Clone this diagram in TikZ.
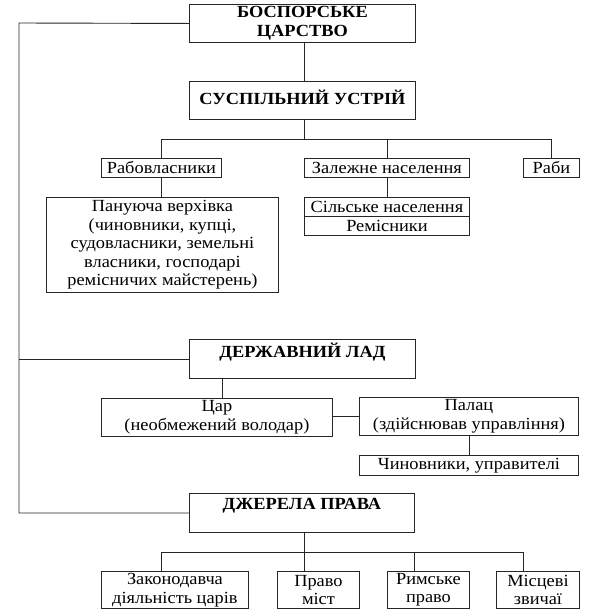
\documentclass[tikz,border=0pt]{standalone}
\usepackage{fontspec}
\setmainfont{Liberation Serif}[FakeStretch=1.08]
\begin{document}
\begin{tikzpicture}[x=1pt,y=-1pt,
  box/.style={draw=black!85, line width=0.9pt, inner sep=0pt, anchor=north west, align=center,
              font=\fontsize{17}{18.5}\selectfont},
  hdr/.style={font=\fontsize{17}{19}\selectfont\bfseries, align=center, inner sep=0pt},
  ln/.style={draw=black!85, line width=0.9pt}]
\useasboundingbox (0,0) rectangle (600,614);
% header boxes
\node[box, minimum width=226, minimum height=38, font=\fontsize{17}{19}\selectfont\bfseries] (top) at (189,4) {БОСПОРСЬКЕ\\ЦАРСТВО};
\node[box, minimum width=226, minimum height=38] (sus) at (189,81) {};
\node[hdr, anchor=north] (sust) at ([yshift=-9pt]sus.north) {СУСПІЛЬНИЙ УСТРІЙ};
\node[box, minimum width=226, minimum height=39] (der) at (189,339) {};
\node[hdr, anchor=north] (dert) at ([yshift=-4pt]der.north) {ДЕРЖАВНИЙ ЛАД};
\node[box, minimum width=225, minimum height=39] (dzh) at (189,493) {};
\node[hdr, anchor=north] (dzht) at ([yshift=-5pt]dzh.north) {ДЖЕРЕЛА ПРАВА};
% social
\node[box, minimum width=120, minimum height=19] (rab) at (101,158) {Рабовласники};
\node[box, minimum width=165, minimum height=19] (zal) at (304,158) {Залежне населення};
\node[box, minimum width=56, minimum height=19] (raby) at (523,158) {Раби};
\node[box, minimum width=232, minimum height=95] (pan) at (46,197) {Пануюча верхівка\\(чиновники, купці,\\судовласники, земельні\\власники, господарі\\ремісничих майстерень)};
\node[box, minimum width=165, minimum height=19] (sil) at (304,197) {Сільське населення};
\node[box, minimum width=165, minimum height=19] (rem) at (304,216) {Ремісники};
% state
\node[box, minimum width=231, minimum height=38] (tsar) at (101,398) {Цар\\(необмежений володар)};
\node[box, minimum width=219, minimum height=38] (pal) at (359,397) {Палац\\(здійснював управління)};
\node[box, minimum width=219, minimum height=20] (chyn) at (359,455) {Чиновники, управителі};
% sources
\node[box, minimum width=147, minimum height=37] (zak) at (101,571) {Законодавча\\діяльність царів};
\node[box, minimum width=82, minimum height=37] (prm) at (277,571) {Право\\міст};
\node[box, minimum width=82, minimum height=37] (rym) at (387,571) {Римське\\право};
\node[box, minimum width=83, minimum height=37] (mis) at (496,571) {Місцеві\\звичаї};
% coordinates
\coordinate (lc1) at (19,23);
\coordinate (lc2) at (19,513);
\coordinate (b1) at (304,139);
\coordinate (b2) at (304,552);
% connectors
\draw[ln] (top.west) -- (lc1) -- (lc2) -- (dzh.west);
\draw[ln] (lc1 |- der.west) -- (der.west);
\draw[ln] (top.south -| b1) -- (sus.north -| b1);
\draw[ln] (sus.south -| b1) -- (b1);
\draw[ln] (rab.north) -- (rab.north |- b1) -- (raby.north |- b1) -- (raby.north);
\draw[ln] (zal.north) -- (zal.north |- b1);
\draw[ln] (rab.south) -- (rab.south |- pan.north);
\draw[ln] (zal.south) -- (sil.north);
\draw[ln] ([xshift=5.5pt]tsar.north) -- ([xshift=5.5pt]tsar.north |- der.south);
\draw[ln] (tsar.east |- pal.west) -- (pal.west);
\draw[ln] (pal.south) -- (chyn.north);
\draw[ln] (dzh.south -| b2) -- (b2 |- prm.north);
\draw[ln] ([xshift=-14pt]zak.north) -- ([xshift=-14pt]zak.north |- b2) -- ([xshift=-14.5pt]mis.north |- b2) -- ([xshift=-14.5pt]mis.north);
\draw[ln] ([xshift=-14pt]rym.north) -- ([xshift=-14pt]rym.north |- b2);
\end{tikzpicture}
\end{document}
